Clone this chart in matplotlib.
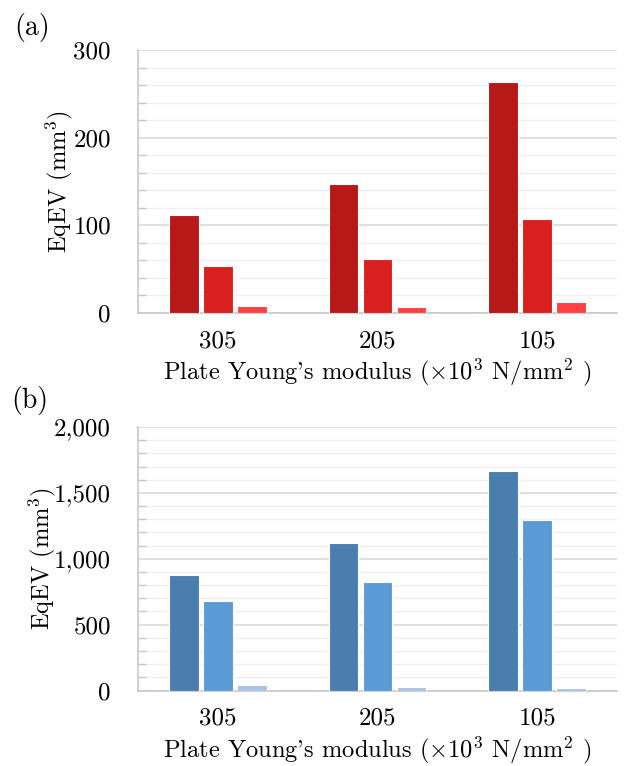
import numpy as np
import matplotlib
matplotlib.use("Agg")
import matplotlib.pyplot as plt
from matplotlib.ticker import MultipleLocator, FuncFormatter

plt.rcParams['font.family'] = 'cmr10'
plt.rcParams['mathtext.fontset'] = 'cm'
plt.rcParams['axes.unicode_minus'] = False

categories = ['305', '205', '105']

# panel (a)
a_s1 = [112, 147, 264]
a_s2 = [54, 62, 107]
a_s3 = [8, 7, 13]
a_colors = ['#B71818', '#DA1F1F', '#FF4141']

# panel (b)
b_s1 = [873, 1119, 1666]
b_s2 = [683, 823, 1296]
b_s3 = [43, 30, 18]
b_colors = ['#4A7EAF', '#5B9BD5', '#A8C3E6']

xlabel = r"Plate Young's modulus ($\times$10$^3$ N/mm$^2$ )"
ylabel = r"EqEV (mm$^3$)"

fig = plt.figure(figsize=(6.27, 7.66), dpi=100)
ax_a = fig.add_axes([138/627, 1-313/766, 479/627, 263/766])
ax_b = fig.add_axes([138/627, 1-690.5/766, 479/627, 263.5/766])


def draw(ax, series, colors, ymax, major, minor, ylab_x):
    x = np.arange(len(categories))
    step = 0.213
    for i, (vals, c) in enumerate(zip(series, colors)):
        ax.bar(x + (i - 1) * step, vals, width=0.185, color=c,
               edgecolor='white', linewidth=0.8, zorder=3)
    ax.set_xlim(-0.5, 2.5)
    ax.set_ylim(0, ymax)
    ax.yaxis.set_major_locator(MultipleLocator(major))
    ax.yaxis.set_minor_locator(MultipleLocator(minor))
    ax.yaxis.set_major_formatter(FuncFormatter(lambda v, p: f"{int(v):,}"))
    ax.grid(which='major', axis='y', color='#d9d9d9', linewidth=1.2, zorder=0)
    ax.grid(which='minor', axis='y', color='#efefef', linewidth=1.0, zorder=0)
    for s in ['top', 'right']:
        ax.spines[s].set_visible(False)
    for s in ['left', 'bottom']:
        ax.spines[s].set_color('#c8c8c8')
        ax.spines[s].set_linewidth(1.2)
    ax.tick_params(axis='y', which='major', length=0, labelsize=18, pad=19.5)
    ax.tick_params(axis='y', which='minor', direction='in', length=6,
                   color='#c8c8c8', width=1)
    ax.set_xticks(x)
    ax.set_xticklabels(categories)
    ax.tick_params(axis='x', length=0, labelsize=18, pad=12.5)
    ax.set_xlabel(xlabel, fontsize=17.6, labelpad=3)
    ax.set_ylabel(ylabel, fontsize=17.6)
    ax.yaxis.set_label_coords(ylab_x, 0.5)
    ax.yaxis.label.set_va('center')


draw(ax_a, [a_s1, a_s2, a_s3], a_colors, 300, 100, 20, (59 - 138) / 479)
draw(ax_b, [b_s1, b_s2, b_s3], b_colors, 2000, 500, 100, (42 - 138) / 479)

fig.text(14/627, 1-27.5/766, '(a)', fontsize=20, va='center', ha='left')
fig.text(11/627, 1-400/766, '(b)', fontsize=20, va='center', ha='left')

fig.savefig('out.png', dpi=100)
